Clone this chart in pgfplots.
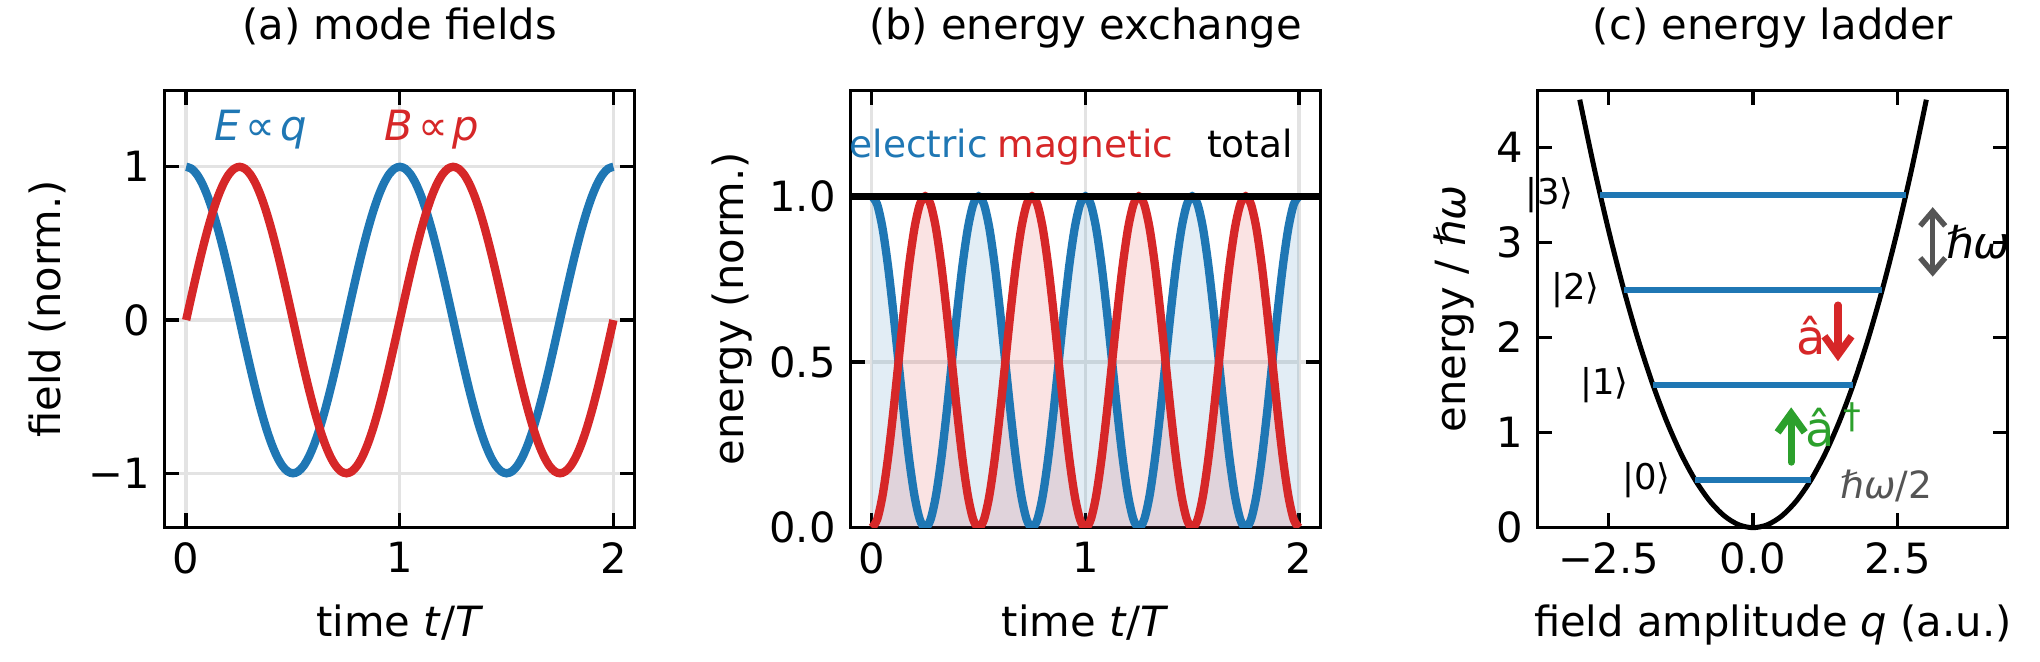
\documentclass[border=0pt]{standalone}
\usepackage{fontspec}
\setmainfont{DejaVu Sans}
\usepackage{pgfplots}
\pgfplotsset{compat=1.18}
\usepackage{pgfplotstable}
\usetikzlibrary{arrows.meta}

\definecolor{mblue}{HTML}{1F77B4}
\definecolor{mred}{HTML}{D62728}
\definecolor{mgreen}{HTML}{2CA02C}
\definecolor{mgray}{HTML}{555555}
\definecolor{gridgray}{HTML}{E3E3E3}
\newcommand{\fsz}[1]{\fontsize{#1}{#1}\selectfont}

% t, E = cos(2 pi t), B = sin(2 pi t), electric and magnetic energy
\pgfplotstableread{
t E B uE uB
0.000 1.00000 0.00000 1.00000 0.00000
0.025 0.98769 0.15643 0.97553 0.02447
0.050 0.95106 0.30902 0.90451 0.09549
0.075 0.89101 0.45399 0.79389 0.20611
0.100 0.80902 0.58779 0.65451 0.34549
0.125 0.70711 0.70711 0.50000 0.50000
0.150 0.58779 0.80902 0.34549 0.65451
0.175 0.45399 0.89101 0.20611 0.79389
0.200 0.30902 0.95106 0.09549 0.90451
0.225 0.15643 0.98769 0.02447 0.97553
0.250 0.00000 1.00000 0.00000 1.00000
0.275 -0.15643 0.98769 0.02447 0.97553
0.300 -0.30902 0.95106 0.09549 0.90451
0.325 -0.45399 0.89101 0.20611 0.79389
0.350 -0.58779 0.80902 0.34549 0.65451
0.375 -0.70711 0.70711 0.50000 0.50000
0.400 -0.80902 0.58779 0.65451 0.34549
0.425 -0.89101 0.45399 0.79389 0.20611
0.450 -0.95106 0.30902 0.90451 0.09549
0.475 -0.98769 0.15643 0.97553 0.02447
0.500 -1.00000 0.00000 1.00000 0.00000
0.525 -0.98769 -0.15643 0.97553 0.02447
0.550 -0.95106 -0.30902 0.90451 0.09549
0.575 -0.89101 -0.45399 0.79389 0.20611
0.600 -0.80902 -0.58779 0.65451 0.34549
0.625 -0.70711 -0.70711 0.50000 0.50000
0.650 -0.58779 -0.80902 0.34549 0.65451
0.675 -0.45399 -0.89101 0.20611 0.79389
0.700 -0.30902 -0.95106 0.09549 0.90451
0.725 -0.15643 -0.98769 0.02447 0.97553
0.750 0.00000 -1.00000 0.00000 1.00000
0.775 0.15643 -0.98769 0.02447 0.97553
0.800 0.30902 -0.95106 0.09549 0.90451
0.825 0.45399 -0.89101 0.20611 0.79389
0.850 0.58779 -0.80902 0.34549 0.65451
0.875 0.70711 -0.70711 0.50000 0.50000
0.900 0.80902 -0.58779 0.65451 0.34549
0.925 0.89101 -0.45399 0.79389 0.20611
0.950 0.95106 -0.30902 0.90451 0.09549
0.975 0.98769 -0.15643 0.97553 0.02447
1.000 1.00000 0.00000 1.00000 0.00000
1.025 0.98769 0.15643 0.97553 0.02447
1.050 0.95106 0.30902 0.90451 0.09549
1.075 0.89101 0.45399 0.79389 0.20611
1.100 0.80902 0.58779 0.65451 0.34549
1.125 0.70711 0.70711 0.50000 0.50000
1.150 0.58779 0.80902 0.34549 0.65451
1.175 0.45399 0.89101 0.20611 0.79389
1.200 0.30902 0.95106 0.09549 0.90451
1.225 0.15643 0.98769 0.02447 0.97553
1.250 0.00000 1.00000 0.00000 1.00000
1.275 -0.15643 0.98769 0.02447 0.97553
1.300 -0.30902 0.95106 0.09549 0.90451
1.325 -0.45399 0.89101 0.20611 0.79389
1.350 -0.58779 0.80902 0.34549 0.65451
1.375 -0.70711 0.70711 0.50000 0.50000
1.400 -0.80902 0.58779 0.65451 0.34549
1.425 -0.89101 0.45399 0.79389 0.20611
1.450 -0.95106 0.30902 0.90451 0.09549
1.475 -0.98769 0.15643 0.97553 0.02447
1.500 -1.00000 0.00000 1.00000 0.00000
1.525 -0.98769 -0.15643 0.97553 0.02447
1.550 -0.95106 -0.30902 0.90451 0.09549
1.575 -0.89101 -0.45399 0.79389 0.20611
1.600 -0.80902 -0.58779 0.65451 0.34549
1.625 -0.70711 -0.70711 0.50000 0.50000
1.650 -0.58779 -0.80902 0.34549 0.65451
1.675 -0.45399 -0.89101 0.20611 0.79389
1.700 -0.30902 -0.95106 0.09549 0.90451
1.725 -0.15643 -0.98769 0.02447 0.97553
1.750 0.00000 -1.00000 0.00000 1.00000
1.775 0.15643 -0.98769 0.02447 0.97553
1.800 0.30902 -0.95106 0.09549 0.90451
1.825 0.45399 -0.89101 0.20611 0.79389
1.850 0.58779 -0.80902 0.34549 0.65451
1.875 0.70711 -0.70711 0.50000 0.50000
1.900 0.80902 -0.58779 0.65451 0.34549
1.925 0.89101 -0.45399 0.79389 0.20611
1.950 0.95106 -0.30902 0.90451 0.09549
1.975 0.98769 -0.15643 0.97553 0.02447
2.000 1.00000 0.00000 1.00000 0.00000
}\fields

% potential V = q^2/2
\pgfplotstableread{
q V
-3.00 4.50000
-2.75 3.78125
-2.50 3.12500
-2.25 2.53125
-2.00 2.00000
-1.75 1.53125
-1.50 1.12500
-1.25 0.78125
-1.00 0.50000
-0.75 0.28125
-0.50 0.12500
-0.25 0.03125
0.00 0.00000
0.25 0.03125
0.50 0.12500
0.75 0.28125
1.00 0.50000
1.25 0.78125
1.50 1.12500
1.75 1.53125
2.00 2.00000
2.25 2.53125
2.50 3.12500
2.75 3.78125
3.00 4.50000
}\potential

\pgfplotsset{
  panel/.style={
    scale only axis, width=112.8pt, height=105pt, anchor=south west,
    axis line style={line width=0.8pt},
    tick style={black, line width=0.8pt},
    major tick length=3.5pt,
    tick align=inside,
    tick label style={font=\fsz{10}},
    label style={font=\fsz{10}},
    title style={font=\fsz{10}, at={(axis description cs:0.5,1.058)}, anchor=base},
    xlabel style={at={(axis description cs:0.5,-0.248)}, anchor=base},
    /pgf/number format/assume math mode=true,
    grid style={line width=0.8pt, gridgray},
  },
}

\begin{document}
\begin{tikzpicture}
\path[use as bounding box] (0,0) rectangle (489.6pt,158.64pt);

% (a) mode fields
\begin{axis}[panel, at={(39.55pt,32pt)},
  title={(a) mode fields},
  xlabel={time \textit{t}/\textit{T}},
  ylabel={field (norm.)},
  ylabel style={at={(axis description cs:-0.249,0.5)}, anchor=center},
  xmin=-0.1, xmax=2.1, ymin=-1.355, ymax=1.5,
  xtick={0,1,2}, xticklabels={0,1,2},
  ytick={-1,0,1}, yticklabels={−1,0,1},
  grid=major,
]
\addplot[mblue, line width=2pt, smooth] table[x=t, y=E] {\fields};
\addplot[mred, line width=2pt, smooth] table[x=t, y=B] {\fields};
\node[anchor=base, text=mblue, font=\fsz{10}] at (axis cs:0.35,1.17) {\textit{E}\kern0.12em∝\kern0.12em\textit{q}};
\node[anchor=base, text=mred, font=\fsz{10}] at (axis cs:1.15,1.17) {\textit{B}\kern0.12em∝\kern0.12em\textit{p}};
\end{axis}

% (b) energy exchange
\begin{axis}[panel, at={(204.1pt,32pt)},
  title={(b) energy exchange},
  xlabel={time \textit{t}/\textit{T}},
  ylabel={energy (norm.)},
  ylabel style={at={(axis description cs:-0.252,0.5)}, anchor=center},
  xmin=-0.1, xmax=2.1, ymin=0, ymax=1.32,
  xtick={0,1,2}, xticklabels={0,1,2},
  ytick={0,0.5,1}, yticklabels={0.0,0.5,1.0},
  grid=major,
]
\addplot[draw=none, fill=mblue, fill opacity=0.13, smooth] table[x=t, y=uE] {\fields} \closedcycle;
\addplot[draw=none, fill=mred, fill opacity=0.13, smooth] table[x=t, y=uB] {\fields} \closedcycle;
\addplot[mblue, line width=2pt, smooth] table[x=t, y=uE] {\fields};
\addplot[mred, line width=2pt, smooth] table[x=t, y=uB] {\fields};
\addplot[black, line width=1.6pt] coordinates {(-0.1,1) (2.1,1)};
\node[anchor=base, text=mblue, font=\fsz{9}] at (axis cs:0.22,1.118) {electric};
\node[anchor=base, text=mred, font=\fsz{9}] at (axis cs:1.0,1.118) {magnetic};
\node[anchor=base, text=black, font=\fsz{9}] at (axis cs:1.77,1.118) {total};
\end{axis}

% (c) energy ladder
\begin{axis}[panel, at={(369.07pt,32pt)},
  title={(c) energy ladder},
  xlabel={field amplitude \textit{q} (a.u.)},
  ylabel={energy / \textit{ℏω}},
  ylabel style={at={(axis description cs:-0.178,0.5)}, anchor=center},
  xmin=-3.726, xmax=4.41, ymin=0, ymax=4.6,
  xtick={-2.5,0,2.5}, xticklabels={−2.5,0.0,2.5},
  ytick={0,1,2,3,4}, yticklabels={0,1,2,3,4},
  clip=false,
]
\addplot[black, line width=1.2pt, smooth] table[x=q, y=V] {\potential};
\addplot[mblue, line width=1.5pt] coordinates {(-1.000,0.5) (1.000,0.5)};
\addplot[mblue, line width=1.5pt] coordinates {(-1.732,1.5) (1.732,1.5)};
\addplot[mblue, line width=1.5pt] coordinates {(-2.236,2.5) (2.236,2.5)};
\addplot[mblue, line width=1.5pt] coordinates {(-2.646,3.5) (2.646,3.5)};
\node[anchor=east, inner sep=0pt, font=\fsz{8.5}] at (axis cs:-1.41,0.5) {|0⟩};
\node[anchor=east, inner sep=0pt, font=\fsz{8.5}] at (axis cs:-2.14,1.5) {|1⟩};
\node[anchor=east, inner sep=0pt, font=\fsz{8.5}] at (axis cs:-2.64,2.5) {|2⟩};
\node[anchor=east, inner sep=0pt, font=\fsz{8.5}] at (axis cs:-3.09,3.5) {|3⟩};
% transition arrows
\draw[mgray, line width=1.3pt, line cap=round,
  {Straight Barb[length=3.5pt,width=6pt]}-{Straight Barb[length=3.5pt,width=6pt]}]
  (axis cs:3.11,2.64) -- (axis cs:3.11,3.37);
\node[anchor=west, inner sep=0pt, font=\fsz{10.5}] at (axis cs:3.33,3.0) {\textit{ℏω}};
\draw[mred, line width=1.75pt, line cap=round, -{Straight Barb[length=4.5pt,width=6.5pt]}]
  (axis cs:1.47,2.34) -- (axis cs:1.47,1.75);
\node[anchor=base east, inner sep=0pt, text=mred, font=\fsz{11.5}] at (axis cs:1.27,1.82) {â};
\draw[mgreen, line width=1.75pt, line cap=round, -{Straight Barb[length=4.5pt,width=6.5pt]}]
  (axis cs:0.66,0.69) -- (axis cs:0.66,1.265);
\node[anchor=base west, inner sep=0pt, text=mgreen, font=\fsz{11.5}] at (axis cs:0.9,0.85) {â\kern2pt\raisebox{4.3pt}{\fsz{8.5}†}};
\node[anchor=base west, inner sep=0pt, text=mgray, font=\fsz{9}] at (axis cs:1.5,0.31) {\textit{ℏω}/2};
\end{axis}
\end{tikzpicture}
\end{document}
